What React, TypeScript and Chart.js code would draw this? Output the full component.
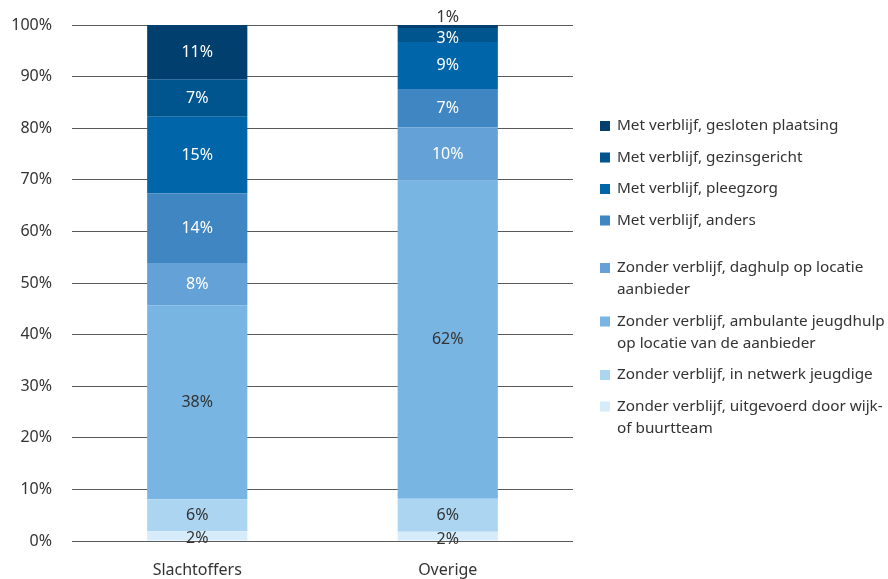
import React, { useEffect, useRef } from "react";
import { Chart, registerables } from "chart.js";

Chart.register(...registerables);

const categories = ["Slachtoffers", "Overige"];

// bottom to top
const wijkteam = [1.9, 1.8];
const netwerk = [6.2, 6.4];
const ambulante = [37.6, 61.6];
const daghulp = [8.2, 10.4];
const anders = [13.5, 7.4];
const pleegzorg = [14.8, 9.1];
const gezinsgericht = [7.3, 2.7];
const gesloten = [10.5, 0.6];

const seriesLabels: string[][] = [
  ["Zonder verblijf, uitgevoerd door wijk-", "of buurtteam"],
  ["Zonder verblijf, in netwerk jeugdige"],
  ["Zonder verblijf, ambulante jeugdhulp", "op locatie van de aanbieder"],
  ["Zonder verblijf, daghulp op locatie", "aanbieder"],
  ["Met verblijf, anders"],
  ["Met verblijf, pleegzorg"],
  ["Met verblijf, gezinsgericht"],
  ["Met verblijf, gesloten plaatsing"],
];
const seriesValues = [wijkteam, netwerk, ambulante, daghulp, anders, pleegzorg, gezinsgericht, gesloten];
const seriesColors = ["#d6ecfa", "#acd5f1", "#79b5e2", "#63a1d7", "#3f86c3", "#0066a9", "#01558f", "#013f6e"];
const labelColors = ["#333333", "#333333", "#333333", "#ffffff", "#ffffff", "#ffffff", "#ffffff", "#ffffff"];
const tickLabels = ["0%", "10%", "20%", "30%", "40%", "50%", "60%", "70%", "80%", "90%", "100%"];

const FONT = "'Noto Sans', sans-serif";

const dataLabelPlugin = {
  id: "dataLabels",
  afterDatasetsDraw(chart: any) {
    const ctx = chart.ctx;
    ctx.save();
    ctx.font = `16px ${FONT}`;
    ctx.textAlign = "center";
    ctx.textBaseline = "middle";
    chart.data.datasets.forEach((ds: any, di: number) => {
      const meta = chart.getDatasetMeta(di);
      meta.data.forEach((el: any, i: number) => {
        const v = ds.data[i];
        const txt = Math.round(v) + "%";
        let y = (el.y + el.base) / 2;
        let color = labelColors[di];
        if (v < 1.2) {
          y = el.y - 8;
          color = "#333333";
        } else if (v < 3.5) {
          y = (el.y + el.base) / 2 + 3;
        }
        ctx.fillStyle = color;
        ctx.fillText(txt, el.x, y);
      });
    });
    ctx.restore();
  },
};

const legendPlugin = {
  id: "customLegend",
  afterDraw(chart: any) {
    const ctx = chart.ctx;
    ctx.save();
    ctx.font = `15.3px ${FONT}`;
    ctx.textBaseline = "middle";
    ctx.textAlign = "left";
    const x = 600;
    let y = 126;
    const n = seriesLabels.length;
    for (let k = n - 1; k >= 0; k--) {
      const lines = seriesLabels[k];
      ctx.fillStyle = seriesColors[k];
      ctx.fillRect(x, y - 5, 10, 10);
      ctx.fillStyle = "#333333";
      lines.forEach((ln, li) => ctx.fillText(ln, x + 17, y + li * 22));
      y += (lines.length - 1) * 22 + 31.5;
      if (k === 4) y += 16;
    }
    ctx.restore();
  },
};

export default function App() {
  const ref = useRef<HTMLCanvasElement | null>(null);
  useEffect(() => {
    if (!ref.current) return;
    const chart = new Chart(ref.current, {
      type: "bar",
      data: {
        labels: categories,
        datasets: seriesValues.map((vals, k) => ({
          label: seriesLabels[k].join(" "),
          data: vals,
          backgroundColor: seriesColors[k],
          borderWidth: 0,
          barPercentage: 0.4,
          categoryPercentage: 1,
        })),
      },
      options: {
        animation: false,
        responsive: true,
        maintainAspectRatio: false,
        layout: { padding: { top: 25, right: 315, bottom: 0, left: 0 } },
        plugins: { legend: { display: false }, tooltip: { enabled: false } },
        scales: {
          x: {
            stacked: true,
            grid: { display: false },
            border: { display: false },
            ticks: { color: "#333333", font: { family: FONT, size: 16 }, padding: 12 },
            afterFit: (s: any) => { s.height = 38; s.paddingLeft = 0; s.paddingRight = 0; },
          },
          y: {
            stacked: true,
            min: 0,
            max: 100,
            border: { display: false },
            grid: { color: "#5a5a5a", lineWidth: 1, drawTicks: false },
            ticks: {
              stepSize: 10,
              padding: 20,
              color: "#333333",
              font: { family: FONT, size: 16 },
              callback: (_v: any, i: number) => tickLabels[i],
            },
            afterFit: (s: any) => { s.width = 72; s.paddingTop = 0; s.paddingBottom = 0; },
          },
        },
      },
      plugins: [dataLabelPlugin, legendPlugin],
    });
    return () => chart.destroy();
  }, []);
  return (
    <div style={{ position: "absolute", left: 0, top: 0, width: 888, height: 579, background: "#fff" }}>
      <canvas ref={ref} />
    </div>
  );
}
